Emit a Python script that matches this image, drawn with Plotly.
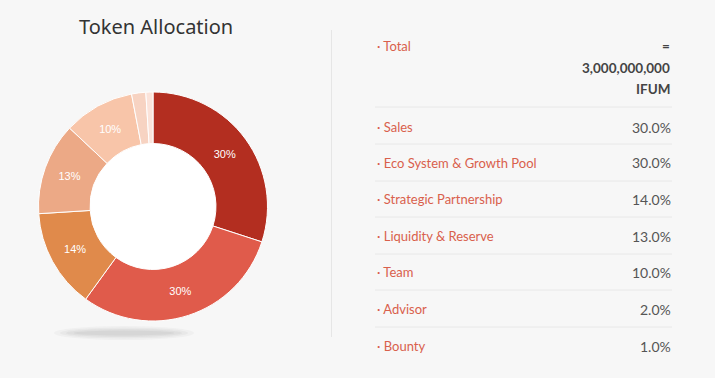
import plotly.graph_objects as go

# ---- data ----
categories = ["Sales", "Eco System & Growth Pool", "Strategic Partnership",
              "Liquidity & Reserve", "Team", "Advisor", "Bounty"]
shares = [30.0, 30.0, 14.0, 13.0, 10.0, 2.0, 1.0]
colors = ["#B32E20", "#E05B4B", "#E08A4B", "#ECA986", "#F8C5A9", "#F7D3C2", "#FBE3DA"]
total_label = "Total"
total_lines = ["=", "3,000,000,000", "IFUM"]
title_text = "Token Allocation"

W, H = 715, 378
def px(x):
    return x / W
def py(y):
    return 1 - y / H

slice_text = [f"{v:.0f}%" if v >= 10 else "" for v in shares]

fig = go.Figure()
fig.add_trace(go.Pie(
    labels=categories, values=shares, sort=False, direction="clockwise",
    rotation=0, hole=0.55,
    marker=dict(colors=colors, line=dict(color="#FFFFFF", width=1)),
    text=slice_text, textinfo="text", textposition="inside",
    insidetextorientation="horizontal",
    textfont=dict(family="Liberation Sans, Arial", size=11, color="#FFFFFF"),
    domain=dict(x=[px(38), px(268)], y=[py(321), py(92)]),
    showlegend=False, hoverinfo="label+percent",
))

shapes = []
# soft shadow under the donut
for w, h, op in [(140, 14, 0.05), (128, 11, 0.06), (116, 8, 0.07), (100, 5, 0.08)]:
    cx, cy = 124, 333
    shapes.append(dict(type="circle", xref="paper", yref="paper",
                       x0=px(cx - w / 2), x1=px(cx + w / 2), y0=py(cy + h / 2), y1=py(cy - h / 2),
                       fillcolor=f"rgba(120,120,120,{op})", line=dict(width=0), layer="below"))
# white hole
shapes.append(dict(type="circle", xref="paper", yref="paper",
                   x0=px(153 - 64), x1=px(153 + 64), y0=py(206 + 64), y1=py(206 - 64),
                   fillcolor="#FFFFFF", line=dict(width=0), layer="below"))
# vertical divider
shapes.append(dict(type="line", xref="paper", yref="paper",
                   x0=px(331.5), x1=px(331.5), y0=py(30), y1=py(337),
                   line=dict(color="#E6E6E6", width=1)))

annotations = [dict(text=title_text, x=px(156), y=py(26), xref="paper", yref="paper",
                    showarrow=False, xanchor="center", yanchor="middle",
                    font=dict(family="Noto Sans", size=20, color="#333333"))]

lab_font = dict(family="Lato", size=13, color="#D9604C")
val_font = dict(family="Lato", size=14, color="#555555")

# total row
annotations.append(dict(text="· " + total_label, x=px(375), y=py(46), xref="paper", yref="paper",
                        showarrow=False, xanchor="left", yanchor="middle", font=lab_font))
for t, yy in zip(total_lines, [46, 68, 89]):
    annotations.append(dict(text=f"<b>{t}</b>", x=px(672), y=py(yy), xref="paper", yref="paper",
                            showarrow=False, xanchor="right", yanchor="middle",
                            font=dict(family="Lato", size=13.5, color="#444444")))

sep_ys = [107, 144, 181, 217, 254, 290, 327]
row_ys = [127, 163, 199, 236, 272, 309, 346]
for y in sep_ys:
    shapes.append(dict(type="line", xref="paper", yref="paper",
                       x0=px(375), x1=px(672), y0=py(y), y1=py(y),
                       line=dict(color="#E8E8E8", width=1)))
for cat, v, y in zip(categories, shares, row_ys):
    annotations.append(dict(text="· " + cat, x=px(375), y=py(y), xref="paper", yref="paper",
                            showarrow=False, xanchor="left", yanchor="middle", font=lab_font))
    annotations.append(dict(text=f"{v:.1f}%", x=px(673), y=py(y), xref="paper", yref="paper",
                            showarrow=False, xanchor="right", yanchor="middle", font=val_font))

fig.update_layout(
    width=W, height=H, margin=dict(l=0, r=0, t=0, b=0),
    paper_bgcolor="#F7F7F7", plot_bgcolor="#F7F7F7",
    shapes=shapes, annotations=annotations,
)
fig.write_html("out.html", config={"displayModeBar": False},
               post_script="document.body.style.margin='0';document.body.style.background='#F7F7F7';")
